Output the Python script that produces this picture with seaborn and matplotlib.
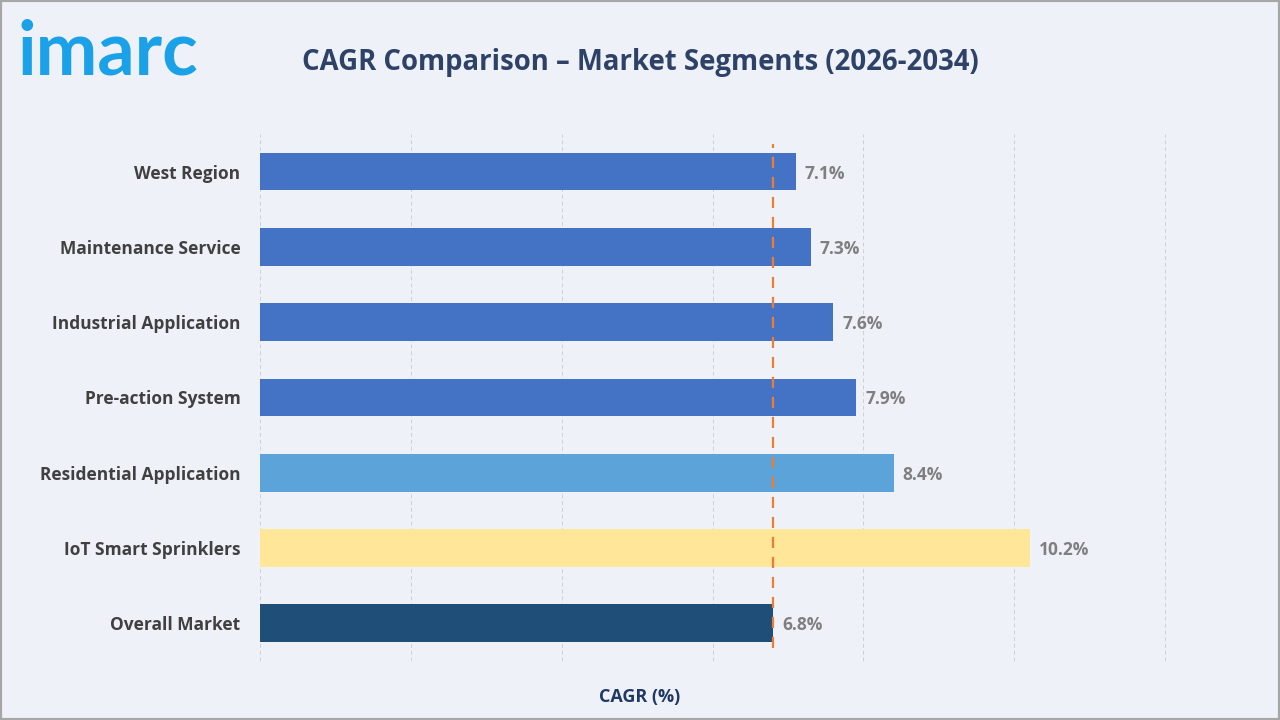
import pandas as pd
import matplotlib.pyplot as plt
import seaborn as sns

# Dane
segmenty = [
    "West Region", "Maintenance Service", "Industrial Application",
    "Pre-action System", "Residential Application", "IoT Smart Sprinklers",
    "Overall Market",
]
cagr = [7.1, 7.3, 7.6, 7.9, 8.4, 10.2, 6.8]
kolory = ["#4472C4", "#4472C4", "#4472C4", "#4472C4", "#5BA3D9", "#FFE699", "#1F4E79"]
rynek_ogolem = 6.8
x_ticks = [0, 2, 4, 6, 8, 10, 12]

df = pd.DataFrame({"segment": segmenty, "cagr": cagr})

tlo = "#EEF2F8"
sns.set_style("white")
plt.rcParams["font.family"] = ["Open Sans", "DejaVu Sans"]

fig = plt.figure(figsize=(12.8, 7.2), dpi=100, facecolor=tlo)
ax = fig.add_axes([0.203, 0.082, 0.708, 0.732])
ax.set_facecolor(tlo)

sns.barplot(data=df, x="cagr", y="segment", hue="segment", palette=kolory,
            orient="h", width=0.5, legend=False, ax=ax, saturation=1,
            linewidth=0)

ax.set_xlim(0, 12.01)
ax.set_ylim(6.5, -0.5)
ax.set_xticks(x_ticks)
ax.set_xticklabels([])
ax.tick_params(axis="both", length=0)
ax.grid(axis="x", color="#CDD1D7", linestyle=(0, (4, 3)), linewidth=0.7)
ax.set_axisbelow(True)
for s in ax.spines.values():
    s.set_visible(False)

ax.set_ylabel("")
ax.set_xlabel("")
for lab in ax.get_yticklabels():
    lab.set_fontsize(12.5)
    lab.set_fontweight("bold")
    lab.set_color("#404040")
ax.tick_params(axis="y", pad=14)

# Etykiety wartości
for i, v in enumerate(cagr):
    ax.text(v + 0.12, i, f"{v}%", va="center_baseline", ha="left",
            fontsize=12.5, fontweight="bold", color="#7F7F7F")

# Linia rynku ogółem
ax.axvline(rynek_ogolem, ymin=0.025, ymax=0.98, color="#ED7D31",
           linestyle=(0, (5, 4)), linewidth=1.6, zorder=3)

# Tytuł, oś i logo
fig.text(0.5, 0.913, "CAGR Comparison – Market Segments (2026-2034)",
         ha="center", va="center", fontsize=19.8, fontweight="bold", color="#2E4268")
fig.text(0.5, 0.032, "CAGR (%)", ha="center", va="center",
         fontsize=13, fontweight="bold", color="#1F3864")
fig.text(0.014, 0.927, "imarc", ha="left", va="center", fontsize=53,
         fontweight="bold", color="#1BA1E8", family=["Lato", "DejaVu Sans"])

# Ramka
fig.patches.append(plt.Rectangle((0, 0), 1, 1, transform=fig.transFigure,
                                 fill=False, edgecolor="#A6A6A6", linewidth=3))

fig.savefig("out.png", dpi=100, facecolor=tlo)
